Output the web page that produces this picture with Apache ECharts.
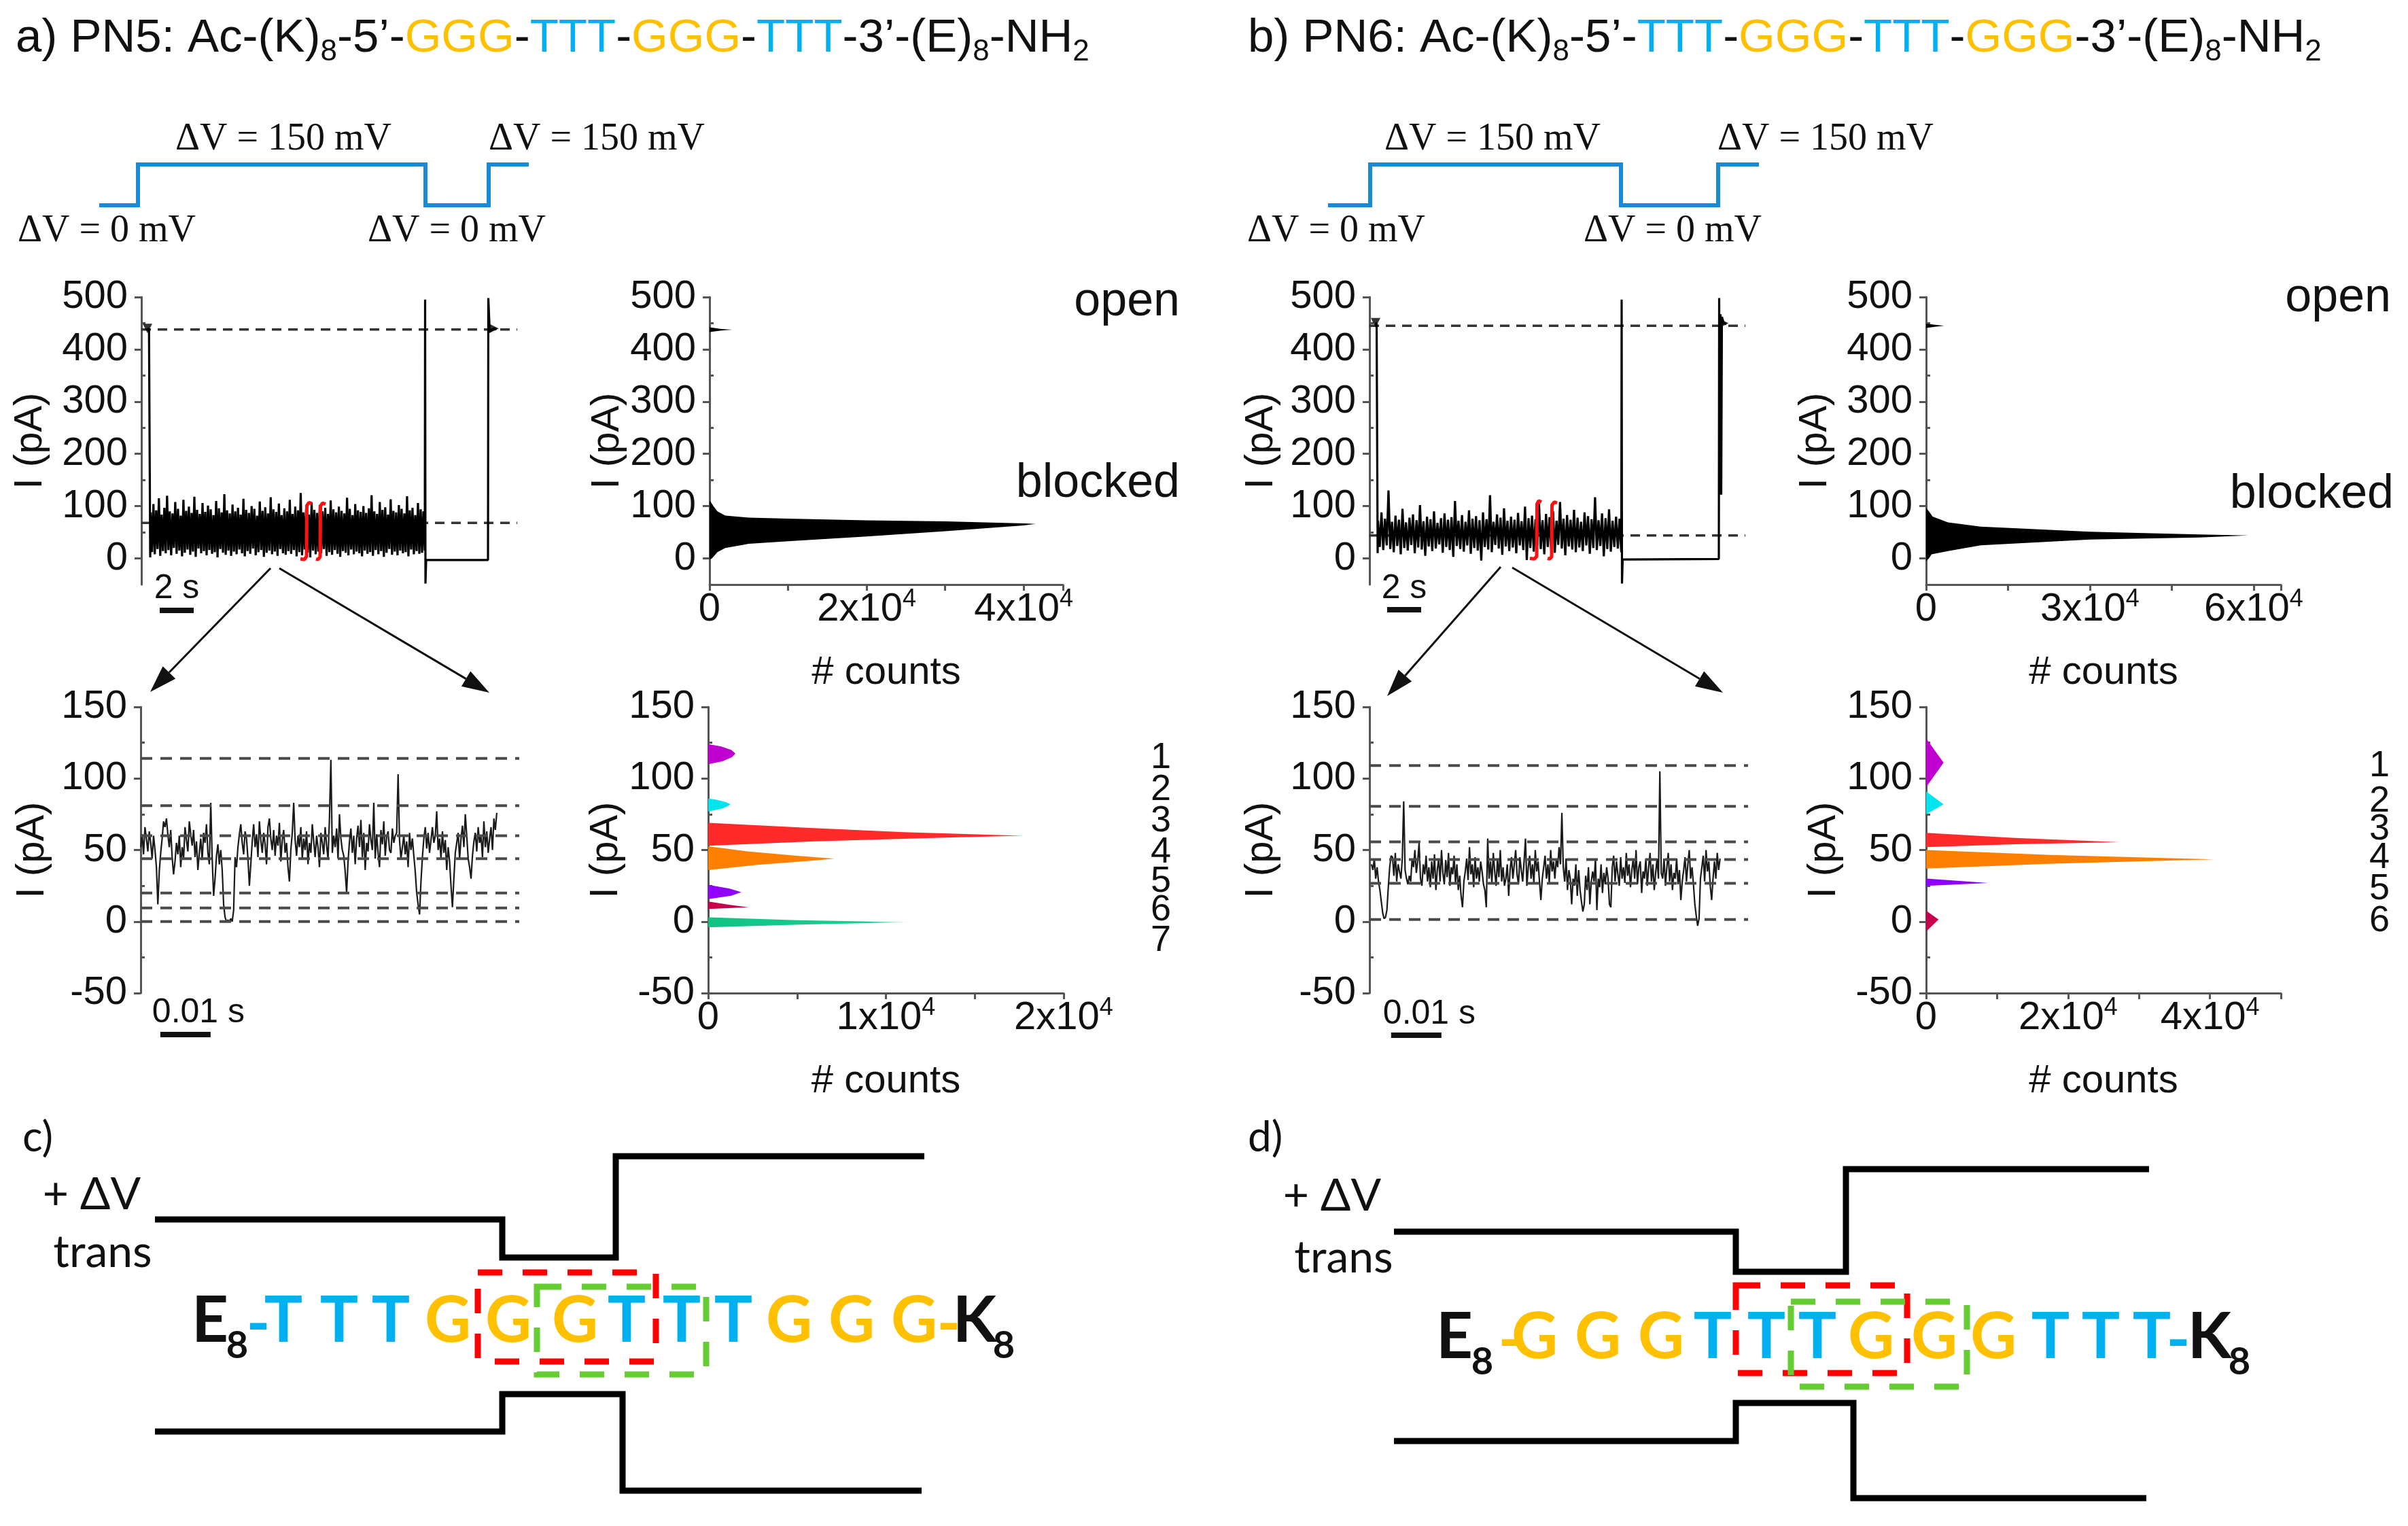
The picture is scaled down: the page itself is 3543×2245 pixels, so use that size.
<!DOCTYPE html>
<html>
<head>
<meta charset="utf-8">
<title>PN5 / PN6 nanopore current traces</title>
<script src="https://cdn.jsdelivr.net/npm/echarts@6/dist/echarts.min.js"></script>
<style>
    html, body { margin: 0; padding: 0; background: #fff; }
    #chart { width: 3543px; height: 2245px; }
</style>
</head>
<body>
<div id="chart"></div>
<script>
// ---------------- values ----------------
// top traces: current (pA), sampled evenly over the blocked part of the record
var aTopNoise = [88,12,104,8,92,18,115,5,84,14,97,10,120,16,90,6,86,20,108,9,
    95,15,82,4,112,11,91,17,99,7,87,13,118,3,93,19,85,10,106,14,
    89,6,101,16,94,9,83,12,110,2,96,18,88,11,123,7,92,15,86,5,
    103,13,90,8,97,17,84,10,114,4,93,14,87,9,100,19,95,6,82,12,
    109,16,91,3,98,11,86,15,117,8,94,13,89,5,105,18,83,10,96,7,
    90,14,112,9,85,16,99,4,92,12,125,6,88,17,95,11,84,2,107,15,
    93,8,87,13,102,10,90,18,97,5,85,12,111,7,94,16,88,9,99,3,
    91,14,86,11,116,6,95,17,83,8,104,13,92,10,89,4,100,15,87,9,
    96,12,121,5,90,16,85,8,108,14,93,3,98,11,84,18,113,7,91,13,
    88,6,102,15,95,10,86,12,119,4,92,17,97,8,83,14,106,9,94,11,90,15];
var aTopSpan = [0.55, 16.68];              // s
var aTopLead = [[0.36, 440], [0.45, 438], [0.52, 2]];
var aTopTail = [[16.7, 495], [16.72, -48], [16.76, -3], [20.4, -3], [20.42, 498], [20.5, 434], [20.75, 440], [20.9, 438]];

var bTopNoise = [72,22,88,16,76,25,130,18,70,12,82,24,74,8,95,20,69,15,78,26,
    84,10,73,21,102,17,71,5,80,23,75,14,90,19,68,27,77,11,86,22,
    74,16,79,3,110,24,72,18,83,13,70,25,92,9,76,20,81,15,73,-4,
    88,22,75,17,121,12,70,26,84,19,78,7,96,23,72,14,80,21,74,10,
    87,25,71,16,99,-3,77,20,82,13,75,24,105,18,73,8,85,22,79,15,
    90,11,72,26,108,19,76,6,83,23,74,17,93,12,78,21,70,14,88,25,
    81,9,75,20,117,16,73,24,86,4,77,18,94,13,72,22,80,19,76,12];
var bTopSpan = [0.5, 14.82];
var bTopLead = [[0.36, 451], [0.42, 448], [0.48, 10]];
var bTopTail = [[14.84, 495], [14.86, -48], [14.9, -2], [20.56, -1], [20.58, 498], [20.62, 122], [20.66, 467], [20.7, 122], [20.74, 462], [20.85, 450], [21.0, 448]];

// open / blocked levels (pA)
var aOpenLevel = 438, aBlockedLevel = 68;
var bOpenLevel = 445, bBlockedLevel = 44;

// red brackets marking the zoomed stretch: [s, pA]
var aBracketL = [[10.04, 105], [9.86, 107], [9.74, 101], [9.72, 4], [9.6, -2], [9.36, -1]];
var aBracketR = [[10.84, 104], [10.66, 106], [10.54, 100], [10.52, 3], [10.4, -2], [10.28, -1]];
var bBracketL = [[10.12, 108], [9.96, 110], [9.86, 104], [9.84, 4], [9.7, -1], [9.44, 0]];
var bBracketR = [[11.04, 106], [10.88, 108], [10.74, 102], [10.72, 3], [10.6, -1], [10.48, 0]];

// all-points histograms (top right): current (pA) vs counts
var aHistI = [-2, 0, 5, 12, 20, 28, 33, 42, 52, 63, 66, 67, 71, 73, 76, 78, 82, 90, 100, 107, 110];
var aHistN = [0, 300, 600, 1000, 2000, 5000, 10000, 20000, 30000, 40000, 41500, 40000, 30000, 20000, 10000, 5000, 2000, 1000, 500, 200, 0];
var aOpenHistI = [433, 436, 437.5, 439, 442];
var aOpenHistN = [0, 1500, 2900, 1500, 0];
var bHistI = [-5, 0, 8, 14, 25, 36, 40, 44, 46, 51, 61, 69, 80, 90, 97];
var bHistN = [0, 500, 1000, 4000, 10000, 30000, 50000, 59000, 50000, 30000, 10000, 4000, 1200, 500, 0];
var bOpenHistI = [441, 443, 445, 447, 449];
var bOpenHistN = [0, 1600, 3300, 1600, 0];

// zoomed traces (pA), evenly sampled
var aZoomTrace = [52,61,47,66,58,49,63,55,44,60,50,38,12,35,48,58,70,66,72,61,52,64,45,33,42,
    55,47,60,38,52,44,66,57,49,70,61,53,64,45,56,36,48,58,43,62,55,68,48,40,83,
    44,18,30,46,54,40,50,36,12,3,0,1,0,2,0,8,45,38,52,61,68,55,47,63,58,
    44,25,40,56,68,52,61,45,70,57,48,62,54,40,66,72,58,50,64,46,60,53,69,42,57,
    64,48,55,38,28,50,62,83,57,46,60,52,66,44,58,50,63,40,55,48,68,56,45,60,52,
    38,62,55,47,66,53,44,72,113,48,60,52,65,44,75,58,50,46,35,20,42,56,65,48,60,
    40,58,67,52,71,45,62,36,55,49,68,57,50,83,44,61,48,38,64,54,70,46,59,63,50,
    48,65,55,60,62,103,57,44,52,60,47,56,38,62,50,58,46,35,20,12,5,28,45,58,66,
    51,62,48,57,66,55,60,77,50,58,44,63,48,57,36,52,42,25,10,30,48,55,62,44,58,
    67,52,75,60,44,38,30,46,56,62,49,66,55,60,45,70,52,63,48,58,66,50,72,64,76];
var aZoomSpan = [0, 0.0708];
var bZoomTrace = [40,36,44,30,38,28,22,14,6,2,3,8,24,38,46,45,32,48,28,40,35,30,44,84,36,
    30,26,32,28,44,38,50,34,42,55,30,25,40,33,46,28,38,24,42,30,47,22,36,44,28,
    50,34,26,43,31,48,25,38,33,46,27,40,22,32,18,10,28,35,44,29,52,33,40,24,45,
    30,38,28,42,35,26,22,10,58,30,42,27,48,35,25,44,31,50,28,38,25,30,40,18,36,
    45,30,40,50,33,26,45,36,28,42,58,25,38,46,30,40,27,50,35,42,28,15,30,38,46,
    30,40,27,50,35,42,30,44,38,52,40,76,38,28,44,22,36,30,12,30,25,40,18,36,22,
    14,7,12,32,22,38,12,28,35,28,44,8,30,24,40,20,34,26,38,30,12,10,38,46,28,
    42,33,25,45,30,38,27,48,32,40,24,36,44,30,50,26,38,42,20,35,30,44,25,38,48,
    28,40,22,34,44,30,105,34,30,44,25,38,48,28,40,22,34,30,44,26,36,15,28,36,45,
    28,40,50,30,38,26,12,4,-3,2,30,38,46,28,50,35,42,25,15,30,42,30,48,36,44];
var bZoomSpan = [0.0004, 0.0697];

// current levels (pA)
var aLevels = [114, 81, 60, 44, 20, 9.5, 0];
var bLevels = [109, 80.5, 55.7, 43.3, 26.7, 1.4];
var aLevelNames = ['1', '2', '3', '4', '5', '6', '7'];
var bLevelNames = ['1', '2', '3', '4', '5', '6'];

// level histograms (bottom right): current (pA) vs counts per fitted level
var aPeakI = [
    [110, 112, 115, 117.5, 120, 122.5, 124],
    [77, 79, 81, 82, 83.5, 85, 86],
    [53, 56, 58.5, 60, 62.5, 65.5, 69],
    [36, 39.5, 42.5, 44, 46, 49, 52.6],
    [15.7, 18, 20.5, 23, 25.7],
    [8.8, 10, 11.5, 14],
    [-4, -2, -0.5, 1, 3]
];
var aPeakN = [
    [0, 800, 1350, 1530, 1300, 700, 0],
    [0, 800, 1150, 1250, 1000, 500, 0],
    [0, 6000, 13000, 17650, 11000, 5500, 0],
    [0, 2700, 5800, 7100, 5000, 2200, 0],
    [0, 1300, 1860, 1200, 0],
    [0, 2260, 1300, 0],
    [0, 5500, 11300, 5000, 0]
];
var bPeakI = [
    [94, 111, 128],
    [75, 82, 91],
    [52, 54, 55.5, 58.5, 62],
    [37, 40.5, 43.5, 46.5, 50],
    [25, 27, 30],
    [-7, 1.4, 7.6]
];
var bPeakN = [
    [0, 2460, 0],
    [0, 2460, 0],
    [0, 12500, 27300, 12000, 0],
    [0, 18000, 40600, 17500, 0],
    [0, 8750, 0],
    [0, 1750, 0]
];
var peakColors = ['#c000d0', '#00e4ee', '#ff2a2a', '#ff8000', '#9000ff', '#c8004e', '#12c386'];

// tick values
var topMajor = [0, 100, 200, 300, 400, 500];
var topMinor = [50, 150, 250, 350, 450];
var lowMajor = [-50, 0, 50, 100, 150];
var lowMinor = [-25, 25, 75, 125];

// sequences of the schematics
var seqC = ['T', 'T', 'T', 'G', 'G', 'G', 'T', 'T', 'T', 'G', 'G', 'G'];
var seqD = ['G', 'G', 'G', 'T', 'T', 'T', 'G', 'G', 'G', 'T', 'T', 'T'];

// ---------------- layout ----------------
var FONT = 'Liberation Sans';
var INK = '#111';
var AXIS = '#555';
var COL_T = '#00b0f0', COL_G = '#ffc000';

var grids = [
    {left: 208, top: 437, width: 550, height: 423},   // a trace
    {left: 1044, top: 437, width: 520, height: 423},  // a histogram
    {left: 2015, top: 437, width: 550, height: 423},  // b trace
    {left: 2834, top: 437, width: 522, height: 423},  // b histogram
    {left: 207, top: 1040, width: 555, height: 421},  // a zoom trace
    {left: 1042, top: 1040, width: 523, height: 421}, // a zoom histogram
    {left: 2015, top: 1040, width: 555, height: 421}, // b zoom trace
    {left: 2834, top: 1040, width: 522, height: 421}  // b zoom histogram
];
var xRange = [[0, 22], [0, 45000], [0, 22], [0, 65000], [0, 0.075], [0, 20000], [0, 0.075], [0, 50000]];
var xStep = [0, 10000, 0, 15000, 0, 5000, 0, 10000];
var xLabelStep = [0, 20000, 0, 30000, 0, 10000, 0, 20000];
var nameGaps = [134, 120, 130, 134, 130, 121, 130, 119];
// right end (in axis units) of the dashed level lines running across both plots
var topDashEnd = [(1634 - 208) / 25, (3413 - 2015) / 25];
var lowDashEnd = [(1668 - 207) / 7400, (3461 - 2015) / 7400];

function sampled(values, span) {
    var out = [];
    for (var i = 0; i < values.length; i++) {
        out.push([span[0] + (span[1] - span[0]) * i / (values.length - 1), values[i]]);
    }
    return out;
}

function countLabel(step) {
    return function (v) {
        if (v === 0) return '{n|0}';
        if (v % step !== 0) return '';
        return '{n|' + (v / 10000) + 'x10}{s|4}';
    };
}

var xAxes = [], yAxes = [];
grids.forEach(function (g, i) {
    var isHist = i % 2 === 1;
    var top = i < 4;
    xAxes.push({
        type: 'value', gridIndex: i, min: xRange[i][0], max: xRange[i][1],
        show: isHist,
        interval: isHist ? xStep[i] : undefined,
        axisLine: {show: true, onZero: false, lineStyle: {color: AXIS, width: 3}},
        axisTick: {show: true, length: 9, lineStyle: {color: AXIS, width: 3}},
        axisLabel: {
            show: true, margin: 4, formatter: isHist ? countLabel(xLabelStep[i]) : '',
            rich: {
                n: {fontSize: 58, fontFamily: FONT, color: INK, lineHeight: 66},
                s: {fontSize: 36, fontFamily: FONT, color: INK, lineHeight: 30, verticalAlign: 'top'}
            }
        },
        splitLine: {show: false},
        name: '# counts', nameLocation: 'middle', nameGap: 101,
        nameTextStyle: {fontSize: 58, fontFamily: FONT, color: INK}
    });
    yAxes.push({
        type: 'value', gridIndex: i, min: -50, max: top ? 500 : 150,
        axisLine: {show: true, onZero: false, lineStyle: {color: AXIS, width: 3}},
        axisTick: {show: true, length: 10, customValues: top ? topMajor : lowMajor, lineStyle: {color: AXIS, width: 3}},
        axisLabel: {show: true, customValues: top ? topMajor : lowMajor, margin: 20, fontSize: 58, fontFamily: FONT, color: INK},
        splitLine: {show: false},
        name: 'I (pA)', nameLocation: 'middle', nameRotate: 90, nameGap: nameGaps[i],
        nameTextStyle: {fontSize: 58, fontFamily: FONT, color: INK}
    });
});
// minor ticks on a second, label-free y axis per plot
grids.forEach(function (g, i) {
    var top = i < 4;
    yAxes.push({
        type: 'value', gridIndex: i, min: -50, max: top ? 500 : 150,
        axisLine: {show: false},
        axisTick: {show: true, length: 6, customValues: top ? topMinor : lowMinor, lineStyle: {color: AXIS, width: 3}},
        axisLabel: {show: false},
        splitLine: {show: false}
    });
});

var series = [];
function lineS(grid, data, color, width, z, dash) {
    series.push({
        type: 'line', xAxisIndex: grid, yAxisIndex: grid, data: data,
        symbol: 'none', clip: false, silent: true, animation: false, z: z,
        lineStyle: {color: color, width: width, type: dash || 'solid'}
    });
}
function polyS(grid, counts, levels, fill, z) {
    series.push({
        type: 'custom', xAxisIndex: grid, yAxisIndex: grid, data: [[0, 0]],
        silent: true, animation: false, z: z,
        renderItem: function (params, api) {
            var pts = [api.coord([0, levels[0]])];
            for (var k = 0; k < levels.length; k++) pts.push(api.coord([counts[k], levels[k]]));
            pts.push(api.coord([0, levels[levels.length - 1]]));
            return {type: 'polygon', shape: {points: pts}, style: {fill: fill}};
        }
    });
}

// top traces
var topDash = [14, 10];
lineS(0, [[0, aOpenLevel], [topDashEnd[0], aOpenLevel]], '#333', 3.5, 1, topDash);
lineS(0, [[0, aBlockedLevel], [topDashEnd[0], aBlockedLevel]], '#333', 3.5, 1, topDash);
lineS(0, aTopLead.concat(sampled(aTopNoise, aTopSpan), aTopTail), '#000', 3.2, 3);
lineS(0, aBracketL, '#ff1010', 5, 5);
lineS(0, aBracketR, '#ff1010', 5, 5);
lineS(2, [[0, bOpenLevel], [topDashEnd[1], bOpenLevel]], '#333', 3.5, 1, topDash);
lineS(2, [[0, bBlockedLevel], [topDashEnd[1], bBlockedLevel]], '#333', 3.5, 1, topDash);
lineS(2, bTopLead.concat(sampled(bTopNoise, bTopSpan), bTopTail), '#000', 3.2, 3);
lineS(2, bBracketL, '#ff1010', 5, 5);
lineS(2, bBracketR, '#ff1010', 5, 5);
series.push({
    type: 'scatter', xAxisIndex: 0, yAxisIndex: 0, symbol: 'triangle', symbolSize: 14, silent: true,
    animation: false, z: 4, itemStyle: {color: '#000'},
    data: [{value: aTopLead[0], symbolRotate: 180}, {value: aTopTail[6], symbolRotate: -90}]
});
series.push({
    type: 'scatter', xAxisIndex: 2, yAxisIndex: 2, symbol: 'triangle', symbolSize: 14, silent: true,
    animation: false, z: 4, itemStyle: {color: '#000'},
    data: [{value: bTopLead[0], symbolRotate: 180}, {value: bTopTail[9], symbolRotate: -90}]
});

// top histograms
polyS(1, aHistN, aHistI, '#000', 2);
polyS(1, aOpenHistN, aOpenHistI, '#000', 2);
polyS(3, bHistN, bHistI, '#000', 2);
polyS(3, bOpenHistN, bOpenHistI, '#000', 2);

// zoomed traces with level lines
var lowDash = [17, 12];
aLevels.forEach(function (lv) { lineS(4, [[0, lv], [lowDashEnd[0], lv]], '#4a4a4a', 4, 6, lowDash); });
bLevels.forEach(function (lv) { lineS(6, [[0, lv], [lowDashEnd[1], lv]], '#4a4a4a', 4, 6, lowDash); });
lineS(4, sampled(aZoomTrace, aZoomSpan), '#1a1a1a', 2.2, 3);
lineS(6, sampled(bZoomTrace, bZoomSpan), '#1a1a1a', 2.2, 3);

// level histograms
aPeakI.forEach(function (lv, k) {
    var fill = peakColors[k];
    if (k === 6) {
        fill = new echarts.graphic.LinearGradient(0, 0, 1, 0, [
            {offset: 0, color: '#10c384'}, {offset: 0.8, color: '#19cf95'}, {offset: 1, color: '#bff5e0'}]);
    }
    polyS(5, aPeakN[k], lv, fill, 2);
});
bPeakI.forEach(function (lv, k) { polyS(7, bPeakN[k], lv, peakColors[k], 2); });

var chart = echarts.init(document.getElementById('chart'), null, {renderer: 'canvas'});
chart.setOption({
    backgroundColor: '#fff',
    animation: false,
    grid: grids,
    xAxis: xAxes,
    yAxis: yAxes,
    series: series
});

// ---------------- annotations ----------------
var gfx = [];
function txt(x, y, s, font, color, align, valign) {
    gfx.push({
        type: 'text', silent: true, z: 10,
        style: {
            x: x, y: y, text: s, font: font, fill: color || INK,
            align: align || 'center', textAlign: align || 'center',
            verticalAlign: valign || 'middle', textVerticalAlign: valign || 'middle'
        }
    });
}
function poly(points, color, width, dash) {
    gfx.push({
        type: 'polyline', silent: true, z: 10, shape: {points: points},
        style: {stroke: color, lineWidth: width, fill: null, lineDash: dash || null, lineJoin: 'miter', lineCap: 'butt'}
    });
}
function box(x0, y0, x1, y1, color) {
    gfx.push({
        type: 'rect', silent: true, z: 11, shape: {x: x0, y: y0, width: x1 - x0, height: y1 - y0},
        style: {stroke: color, lineWidth: 9, fill: null, lineDash: [36, 30]}
    });
}
function arrow(p0, p1) {
    var dx = p1[0] - p0[0], dy = p1[1] - p0[1];
    var len = Math.sqrt(dx * dx + dy * dy), ux = dx / len, uy = dy / len;
    var L = 40, W = 13;
    var bx = p1[0] - ux * L, by = p1[1] - uy * L;
    poly([p0, [bx, by]], '#111', 3);
    gfx.push({
        type: 'polygon', silent: true, z: 10,
        shape: {points: [p1, [bx - uy * W, by + ux * W], [bx + uy * W, by - ux * W]]},
        style: {fill: '#111'}
    });
}

// titles
var titleRich = {
    t: {fontSize: 69, fontFamily: FONT, fill: INK, color: INK, lineHeight: 84},
    s: {fontSize: 44, fontFamily: FONT, fill: INK, color: INK, lineHeight: 36, verticalAlign: 'bottom'},
    g: {fontSize: 69, fontFamily: FONT, fill: COL_G, color: COL_G, lineHeight: 84},
    b: {fontSize: 69, fontFamily: FONT, fill: COL_T, color: COL_T, lineHeight: 84}
};
gfx.push({
    type: 'text', silent: true, z: 10,
    style: {x: 23, y: 15, rich: titleRich, align: 'left', verticalAlign: 'top', textAlign: 'left', textVerticalAlign: 'top',
        text: '{t|a) PN5: Ac-(K)}{s|8}{t|-5’-}{g|GGG}{t|-}{b|TTT}{t|-}{g|GGG}{t|-}{b|TTT}{t|-3’-(E)}{s|8}{t|-NH}{s|2}'}
});
gfx.push({
    type: 'text', silent: true, z: 10,
    style: {x: 1836, y: 15, rich: titleRich, align: 'left', verticalAlign: 'top', textAlign: 'left', textVerticalAlign: 'top',
        text: '{t|b) PN6: Ac-(K)}{s|8}{t|-5’-}{b|TTT}{t|-}{g|GGG}{t|-}{b|TTT}{t|-}{g|GGG}{t|-3’-(E)}{s|8}{t|-NH}{s|2}'}
});

// voltage protocols
var VBLUE = '#1a8ad4';
var serif = '56px "Liberation Serif"';
poly([[146, 302], [203, 302], [203, 242], [626, 242], [626, 302], [719, 302], [719, 242], [778, 242]], VBLUE, 6);
txt(417, 205, 'ΔV = 150 mV', serif); txt(878, 205, 'ΔV = 150 mV', serif);
txt(157, 340, 'ΔV = 0 mV', serif); txt(672, 340, 'ΔV = 0 mV', serif);
poly([[1954, 302], [2016, 302], [2016, 242], [2385, 242], [2385, 302], [2528, 302], [2528, 242], [2588, 242]], VBLUE, 6);
txt(2196, 205, 'ΔV = 150 mV', serif); txt(2686, 205, 'ΔV = 150 mV', serif);
txt(1966, 340, 'ΔV = 0 mV', serif); txt(2461, 340, 'ΔV = 0 mV', serif);

// open / blocked labels
var lab = '70px ' + FONT;
txt(1736, 445, 'open', lab, INK, 'right'); txt(1736, 712, 'blocked', lab, INK, 'right');
txt(3518, 439, 'open', lab, INK, 'right'); txt(3522, 728, 'blocked', lab, INK, 'right');

// level numbers
var numFont = '54px ' + FONT;
[1115, 1162, 1208, 1254, 1297, 1339, 1384].forEach(function (y, k) { txt(1708, y, aLevelNames[k], numFont); });
[1127, 1179, 1220, 1262, 1308, 1355].forEach(function (y, k) { txt(3501, y, bLevelNames[k], numFont); });

// scale bars, placed with the axes' own scales
function scaleBar(grid, t0, dt, barY, label, textX, textY) {
    var p0 = chart.convertToPixel({xAxisIndex: grid, yAxisIndex: grid}, [t0, 0]);
    var p1 = chart.convertToPixel({xAxisIndex: grid, yAxisIndex: grid}, [t0 + dt, 0]);
    gfx.push({type: 'rect', silent: true, z: 10, shape: {x: p0[0], y: barY - 4, width: p1[0] - p0[0], height: 8}, style: {fill: '#111'}});
    txt(textX === null ? (p0[0] + p1[0]) / 2 : p0[0] + textX, textY, label, '50px ' + FONT, INK, textX === null ? 'center' : 'left');
}
scaleBar(0, 1.08, 2, 898, '2 s', null, 866);
scaleBar(2, 1.04, 2, 897, '2 s', null, 866);
scaleBar(4, 0.0039, 0.01, 1522, '0.01 s', -12, 1490);
scaleBar(6, 0.0043, 0.01, 1523, '0.01 s', -12, 1492);

// zoom arrows
arrow([398, 836], [221, 1018]); arrow([411, 836], [720, 1019]);
arrow([2208, 834], [2041, 1024]); arrow([2225, 835], [2535, 1019]);

// schematics c) and d)
var sans = 'Lato';
txt(33, 1674, 'c)', '62px ' + sans, INK, 'left');
txt(135, 1758, '+ ΔV', '66px ' + sans);
txt(151, 1843, 'trans', '66px ' + sans);
poly([[228, 1794], [739, 1794], [739, 1850], [906, 1850], [906, 1701], [1360, 1701]], '#000', 9);
poly([[228, 2106], [739, 2106], [739, 2051], [916, 2051], [916, 2193], [1356, 2193]], '#000', 9);
var cx = [417, 499, 575, 659, 748, 846, 922, 1003, 1079, 1161, 1253, 1345];
var seqFont = 'bold 94px ' + sans, subFont = 'bold 56px ' + sans;
txt(309, 1944, 'E', seqFont); txt(349, 1980, '8', subFont); txt(380, 1950, '-', seqFont, COL_T);
seqC.forEach(function (b, k) { txt(cx[k], 1944, b, seqFont, b === 'T' ? COL_T : COL_G); });
txt(1396, 1950, '-', seqFont, COL_G); txt(1434, 1944, 'K', seqFont); txt(1477, 1980, '8', subFont);
box(703, 1872, 965, 2003, '#ff0000');
box(790, 1893, 1039, 2022, '#66cc33');

txt(1836, 1674, 'd)', '62px ' + sans, INK, 'left');
txt(1960, 1760, '+ ΔV', '66px ' + sans);
txt(1977, 1851, 'trans', '66px ' + sans);
poly([[2051, 1812], [2554, 1812], [2554, 1871], [2716, 1871], [2716, 1720], [3162, 1720]], '#000', 9);
poly([[2051, 2120], [2554, 2120], [2554, 2064], [2727, 2064], [2727, 2204], [3158, 2204]], '#000', 9);
var dx = [2258, 2351, 2444, 2520, 2599, 2674, 2753, 2846, 2933, 3017, 3091, 3166];
txt(2140, 1968, 'E', seqFont); txt(2181, 2004, '8', subFont); txt(2222, 1974, '-', seqFont, COL_G);
seqD.forEach(function (b, k) { txt(dx[k], 1968, b, seqFont, b === 'T' ? COL_T : COL_G); });
txt(3205, 1974, '-', seqFont, COL_T); txt(3251, 1968, 'K', seqFont); txt(3295, 2004, '8', subFont);
box(2554, 1891, 2806, 2020, '#ff0000');
box(2635, 1915, 2894, 2040, '#66cc33');

chart.setOption({graphic: {elements: gfx}});
</script>
</body>
</html>
